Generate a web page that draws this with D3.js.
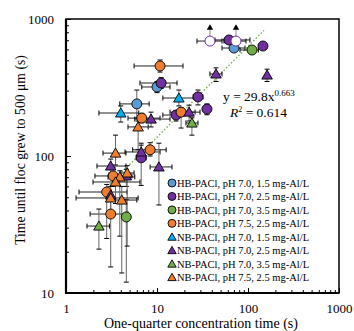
<!DOCTYPE html>
<html>
<head>
<meta charset="utf-8">
<script src="https://cdn.jsdelivr.net/npm/d3@7"></script>
<style>
body { margin: 0; background: #fff; }
text { font-family: "Liberation Serif", "Times New Roman", serif; }
</style>
</head>
<body>
<script>
const width = 354,
      height = 331;

// each point: [x, y, xLow, xHigh, yLow, yHigh]  (null = no bar)
const hb15 = [
	[6.0, 240, 3.9, 8.2, 189, 303],
	[10.0, 319, 6.8, 13.9, 290, 350],
	[70.2, 614, 51.8, 92.7, null, null]
];
const hb25 = [
	[11.1, 341, 6.5, 16.6, 311, 373],
	[6.7, 97, 5.9, 7.6, 61, 124],
	[16.2, 199, 11.6, 23.1, 180, 215],
	[28.2, 270, 25, 32, 236, 303],
	[35.4, 220, null, null, 200, 240],
	[61.8, 703, 43.4, 105, null, null],
	[146, 635, null, null, null, null]
];
// lower-bound values (open symbols with arrows)
const hb25Open = [
	[38.2, 690, 27.5, 51.8, null, null],
	[73.8, 690, 54.5, 95, null, null]
];
const arrowTop = 875;
const hb35 = [
	[4.6, 35.9, null, null, 12.0, 48],
	[110.7, 594, 81.7, 130, null, null]
];
const hb75 = [
	[10.8, 454, 5.6, 19.3, 410, 502],
	[6.8, 189, 4.8, 10.8, 175, 205],
	[8.4, 111, 5.4, 12.6, 100, 125],
	[18.4, 209, 13.9, 26.2, 160, 225],
	[3.3, 71.5, 2.08, 5.05, 60, 82],
	[2.8, 54.6, 1.39, 4.68, 25, 62],
	[3.1, 37.7, 1.84, 4.8, 15.5, 48]
];
const nb15 = [
	[4.0, 206, 2.3, 6.3, 177, 232],
	[17.4, 265, 11.6, 26.2, 232, 303]
];
const nb25 = [
	[8.6, 186, 5.7, 13.9, 163, 209],
	[6.7, 107, 4.45, 10.8, 95, 120],
	[10.5, 83.2, 8.4, 14.6, 43.9, 124],
	[3.1, 84.5, 2.19, 4.56, 75, 95],
	[3.1, 51.9, null, null, null, null],
	[4.6, 71.5, 4.0, 5.3, 60, 80],
	[22.5, 209, 17.9, 29.7, 180, 235],
	[44.5, 397, 38.2, 51.8, 350, 440],
	[162, 390, null, null, 350, 430]
];
const nb35 = [
	[2.3, 30.8, 1.7, 3.0, 20.9, 41.0],
	[24.2, 174, 20.8, 28.2, 142, 190]
];
const nb75 = [
	[6.2, 163, 4.8, 8.0, 111, 180],
	[3.5, 105, 2.55, 4.56, 86, 142],
	[4.7, 75.2, 4.0, 5.6, 22, 85],
	[3.9, 70.3, 2.9, 5.7, 26, 78],
	[3.5, 64.6, 1.98, 6.5, 45, 72],
	[3.1, 49.4, 1.29, 6.2, 40, 60],
	[4.1, 47.7, 2.9, 6.0, 14.0, 60]
];

const legendLabels = [
	"HB-PACl, pH 7.0, 1.5 mg-Al/L",
	"HB-PACl, pH 7.0, 2.5 mg-Al/L",
	"HB-PACl, pH 7.0, 3.5 mg-Al/L",
	"HB-PACl, pH 7.5, 2.5 mg-Al/L",
	"NB-PACl, pH 7.0, 1.5 mg-Al/L",
	"NB-PACl, pH 7.0, 2.5 mg-Al/L",
	"NB-PACl, pH 7.0, 3.5 mg-Al/L",
	"NB-PACl, pH 7.5, 2.5 mg-Al/L"
];
const majorTicks = [1, 10, 100, 1000];
const yMajorTicks = [10, 100, 1000];

// fit y = 29.8 x^0.663
const fitA = 29.8, fitB = 0.663;
const fitRange = [2.5, 150];

const series = [
	{ data: hb15, color: "#5b9bd5", shape: "circle" },
	{ data: hb25, color: "#7030a0", shape: "circle" },
	{ data: hb35, color: "#70ad47", shape: "circle" },
	{ data: hb75, color: "#ed7d31", shape: "circle" },
	{ data: nb15, color: "#00b0f0", shape: "triangle" },
	{ data: nb25, color: "#7030a0", shape: "triangle" },
	{ data: nb35, color: "#70ad47", shape: "triangle" },
	{ data: nb75, color: "#ed7d31", shape: "triangle" }
];

var x = d3.scaleLog().domain([1, 1000]).range([66, 339]);
var y = d3.scaleLog().domain([10, 1000]).range([293, 19]);

var svg = d3.select("body").append("svg")
	.attr("width", width)
	.attr("height", height);

function minors(lo, hi) {
	var out = [];
	for (var d = lo; d < hi; d *= 10)
		for (var k = 2; k < 10; k++) out.push(d * k);
	return out;
}

// axes, ticks inward
svg.append("g")
	.attr("transform", "translate(0,293)")
	.call(d3.axisBottom(x).tickValues(minors(1, 1000)).tickSize(-3).tickFormat(""))
	.call(g => g.select(".domain").remove());
svg.append("g")
	.attr("transform", "translate(0,293)")
	.call(d3.axisBottom(x).tickValues(majorTicks).tickSize(-5).tickPadding(11).tickFormat(d3.format("d")))
	.call(g => g.select(".domain").remove())
	.call(g => g.selectAll("text").attr("font-size", "13px").attr("fill", "#000"));

svg.append("g")
	.attr("transform", "translate(66,0)")
	.call(d3.axisLeft(y).tickValues(minors(10, 1000)).tickSize(-3).tickFormat(""))
	.call(g => g.select(".domain").remove());
svg.append("g")
	.attr("transform", "translate(66,0)")
	.call(d3.axisLeft(y).tickValues(yMajorTicks).tickSize(-5).tickPadding(12).tickFormat(d3.format("d")))
	.call(g => g.select(".domain").remove())
	.call(g => g.selectAll("text").attr("font-size", "13px").attr("fill", "#000"));

// frame
svg.append("rect")
	.attr("x", 66).attr("y", 19)
	.attr("width", 339 - 66).attr("height", 293 - 19)
	.attr("fill", "none").attr("stroke", "#000").attr("stroke-width", 1.5);
svg.append("path")
	.attr("d", "M66,19V293H339")
	.attr("fill", "none").attr("stroke", "#000").attr("stroke-width", 2.2);

// axis titles
svg.append("text")
	.attr("x", 201).attr("y", 328)
	.attr("text-anchor", "middle")
	.attr("font-size", "14px")
	.text("One-quarter concentration time (s)");
svg.append("text")
	.attr("transform", "translate(25,150) rotate(-90)")
	.attr("text-anchor", "middle")
	.attr("font-size", "13.7px")
	.text("Time until floc grew to 500 \u03bcm (s)");

// trend line
var fitPts = d3.range(0, 41).map(function (i) {
	var lx = Math.log10(fitRange[0]) + i / 40 * (Math.log10(fitRange[1]) - Math.log10(fitRange[0]));
	var xv = Math.pow(10, lx);
	return [xv, fitA * Math.pow(xv, fitB)];
});
svg.append("path")
	.attr("d", d3.line().x(d => x(d[0])).y(d => y(d[1]))(fitPts))
	.attr("fill", "none")
	.attr("stroke", "#70ad47")
	.attr("stroke-width", 1.3)
	.attr("stroke-dasharray", "1.5,2");

// equation
var eq = svg.append("text").attr("x", 223).attr("y", 101).attr("font-size", "13.5px");
eq.append("tspan").text("y = 29.8x");
eq.append("tspan").attr("dy", -5).attr("font-size", "9px").text("0.663");
var r2 = svg.append("text").attr("x", 230).attr("y", 117).attr("font-size", "13.5px");
r2.append("tspan").attr("font-style", "italic").text("R");
r2.append("tspan").attr("dy", -5).attr("font-size", "8px").text("2");
r2.append("tspan").attr("dy", 5).text(" = 0.614");

// error bars
var eb = svg.append("g").attr("stroke-width", 1);
var cap = 2.5;
function errorBars(d) {
	var px = x(d[0]), py = y(d[1]);
	if (d[4] != null) {
		eb.append("line").attr("x1", px).attr("x2", px).attr("y1", y(d[4])).attr("y2", y(d[5])).attr("stroke", "#666");
		[d[4], d[5]].forEach(v => eb.append("line").attr("x1", px - cap).attr("x2", px + cap)
			.attr("y1", y(v)).attr("y2", y(v)).attr("stroke", "#000"));
	}
	if (d[2] != null) {
		eb.append("line").attr("x1", x(d[2])).attr("x2", x(d[3])).attr("y1", py).attr("y2", py).attr("stroke", "#222");
		[d[2], d[3]].forEach(v => eb.append("line").attr("x1", x(v)).attr("x2", x(v))
			.attr("y1", py - cap).attr("y2", py + cap).attr("stroke", "#000"));
	}
}
series.forEach(s => s.data.forEach(errorBars));
hb25Open.forEach(errorBars);

// arrows for lower-bound points
hb25Open.forEach(d => {
	var px = x(d[0]);
	eb.append("line").attr("x1", px).attr("x2", px).attr("y1", y(d[1])).attr("y2", y(arrowTop))
		.attr("stroke", "#888");
	svg.append("path").attr("d", d3.symbol(d3.symbolTriangle, 18)())
		.attr("transform", "translate(" + px + "," + (y(arrowTop) + 1) + ")")
		.attr("fill", "#000");
});

function marker(g, shape, color, px, py, scale) {
	if (shape == "circle") {
		g.append("circle").attr("cx", px).attr("cy", py).attr("r", 5 * scale)
			.attr("fill", color).attr("stroke", "#000").attr("stroke-width", 0.9);
	} else {
		g.append("path").attr("d", d3.symbol(d3.symbolTriangle, 48 * scale * scale)())
			.attr("transform", "translate(" + px + "," + (py + 1) + ")")
			.attr("fill", color).attr("stroke", "#000").attr("stroke-width", 0.9);
	}
}

var mk = svg.append("g");
series.forEach(s => s.data.forEach(d => marker(mk, s.shape, s.color, x(d[0]), y(d[1]), 1)));
hb25Open.forEach(d => {
	mk.append("circle").attr("cx", x(d[0])).attr("cy", y(d[1])).attr("r", 5)
		.attr("fill", "#fff").attr("stroke", "#7030a0").attr("stroke-width", 1);
});

// legend
var lg = svg.append("g");
legendLabels.forEach((lab, i) => {
	var ly = 183 + i * 13.45;
	marker(lg, series[i].shape, series[i].color, 172, ly, 0.8);
	lg.append("text").attr("x", 177).attr("y", ly + 4).attr("font-size", "10.5px").text(lab);
});
</script>
</body>
</html>
